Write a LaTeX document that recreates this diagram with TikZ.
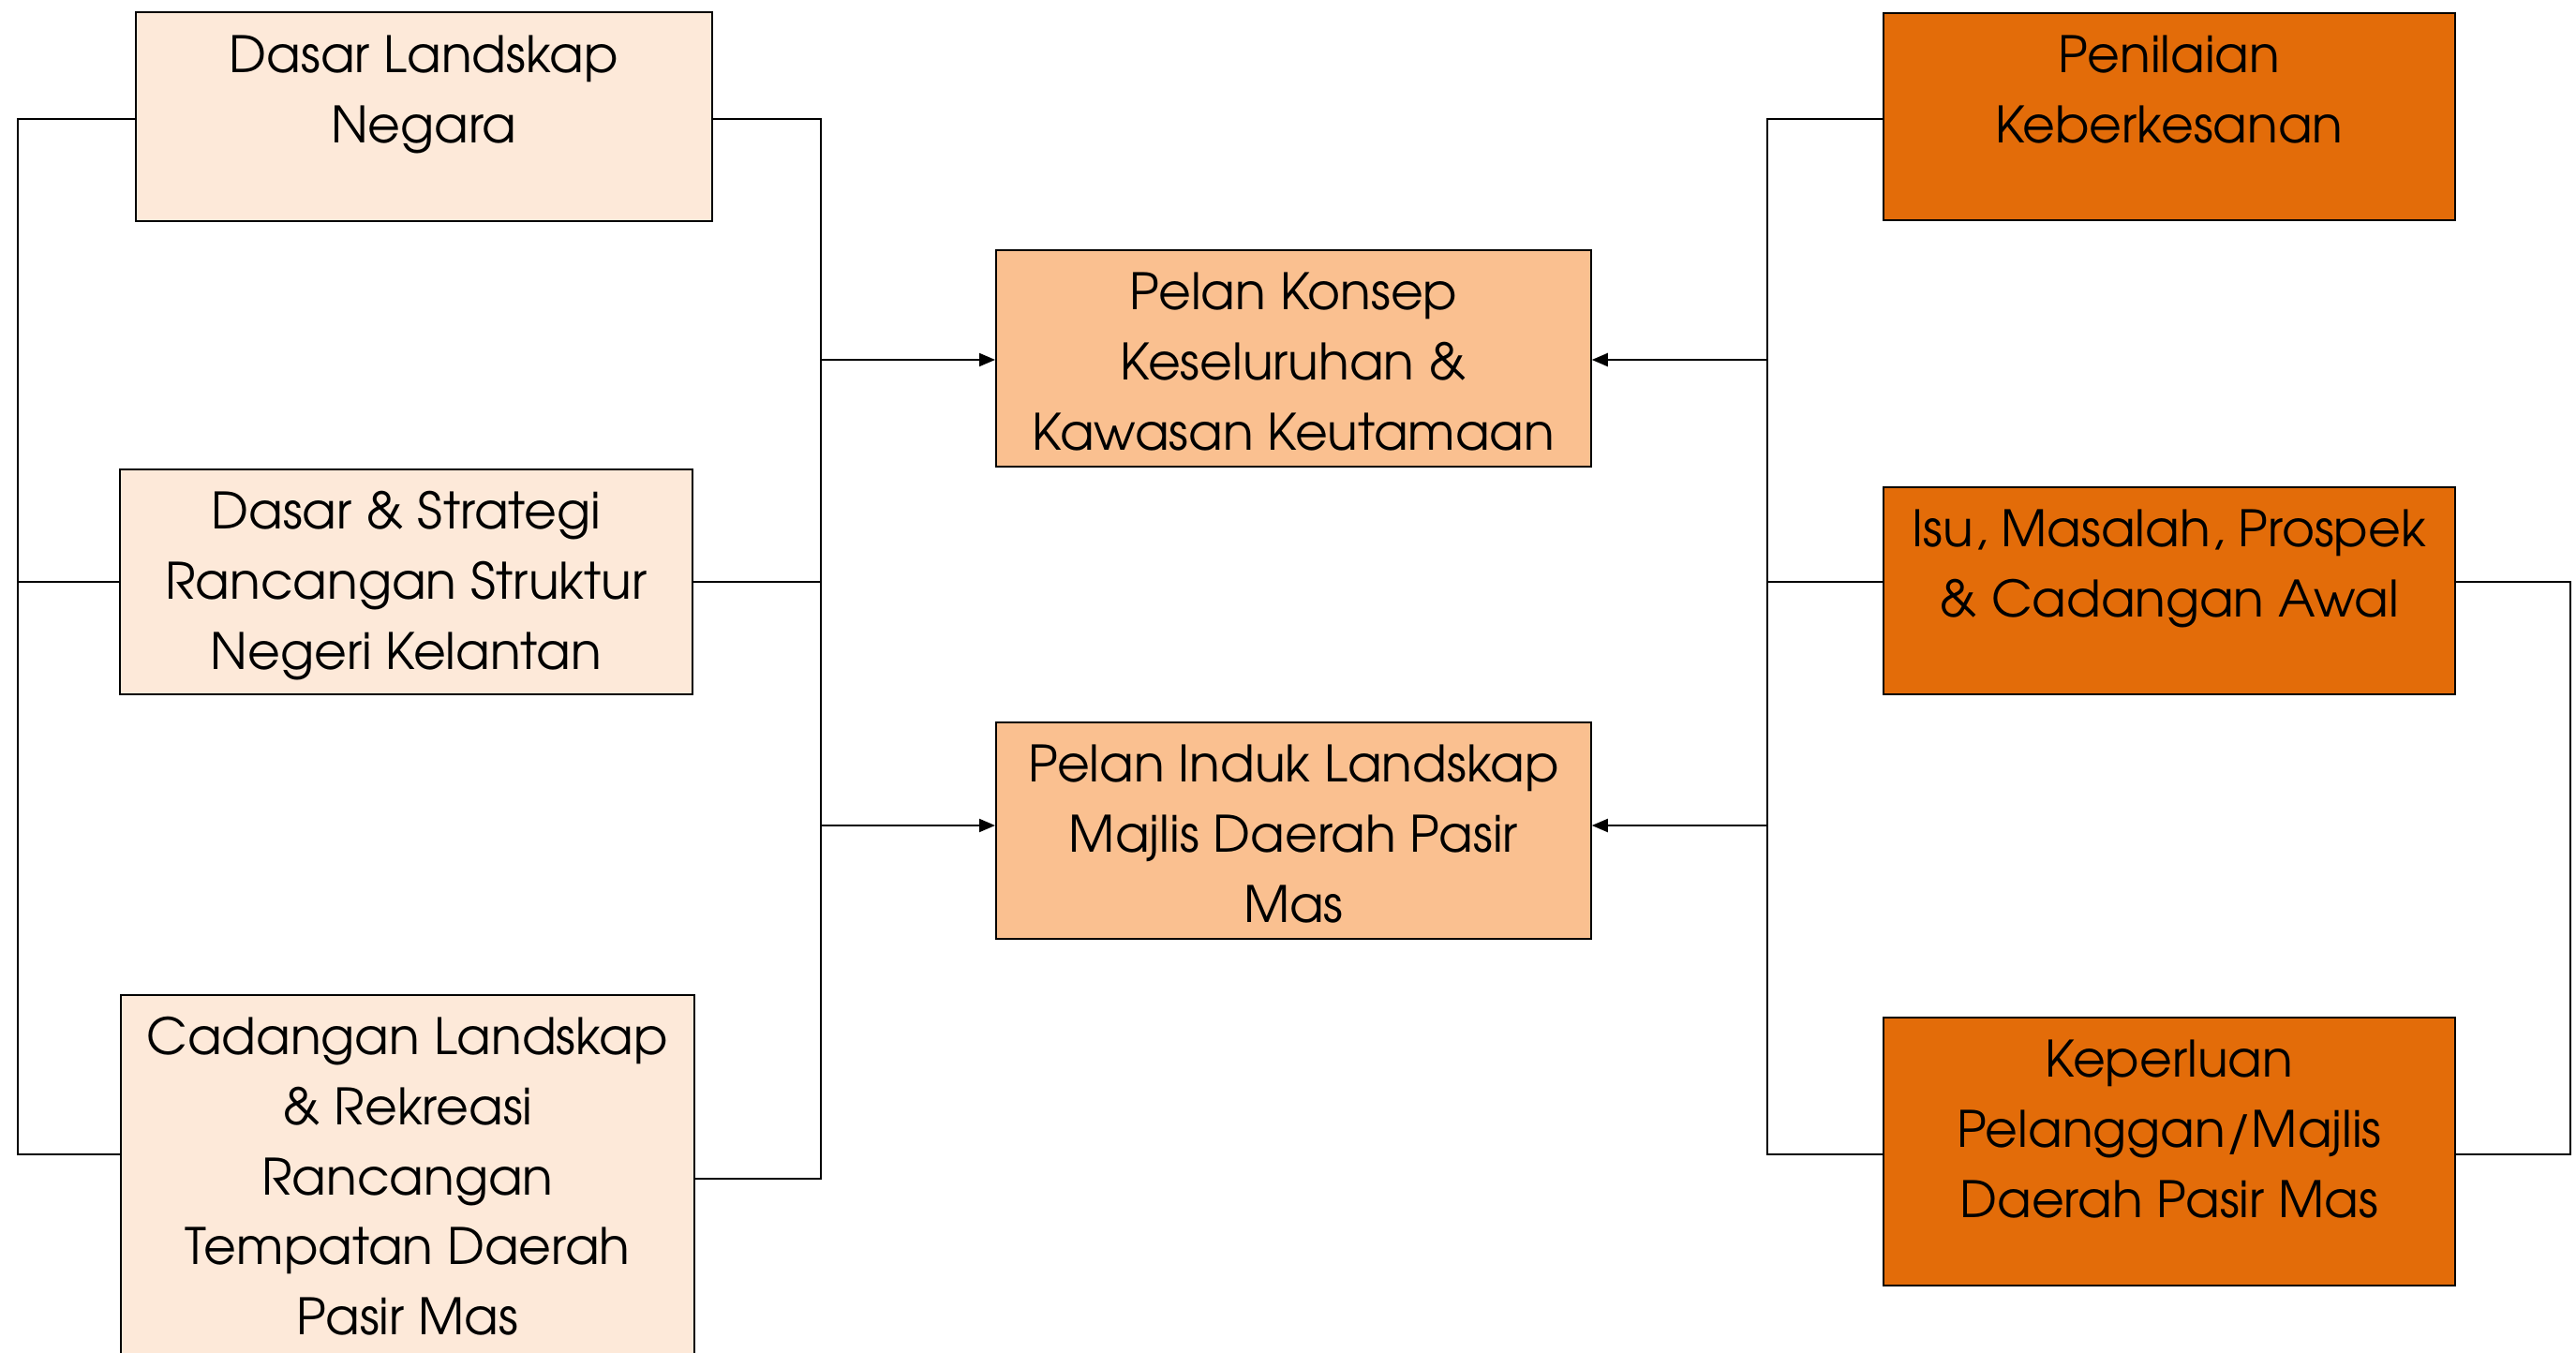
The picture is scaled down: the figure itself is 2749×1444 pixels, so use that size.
\documentclass[tikz,border=0pt]{standalone}
\usepackage{fontspec}
\setmainfont{TeX Gyre Adventor}
\usetikzlibrary{arrows.meta}
\definecolor{peachL}{HTML}{FDE9D9}
\definecolor{peachM}{HTML}{FAC090}
\definecolor{orangeD}{HTML}{E36C09}
\newlength\pxu
\setlength{\pxu}{0.2mm}
\newcommand\boxtext[3]{\begin{minipage}[t][#2\pxu][t]{#1\pxu}\centering\rule{0pt}{64\pxu}#3\end{minipage}}
\tikzset{
  boxbase/.style={draw=black, line width=1pt, inner sep=0pt, anchor=north west,
    font=\fontsize{30.5}{42.5}\selectfont},
  lightbox/.style={boxbase, fill=peachL},
  midbox/.style={boxbase, fill=peachM},
  darkbox/.style={boxbase, fill=orangeD},
  conn/.style={line width=1.1pt},
  arr/.style={conn, -{Triangle[length=3.4mm,width=2.8mm]}}
}
\begin{document}
\begin{tikzpicture}[x=0.2mm, y=-0.2mm]
\fill[white] (0,0) rectangle (2749,1444);
\useasboundingbox (0,0) rectangle (2749,1444);
% left column
\node[lightbox] (b1) at (144,12.5) {\boxtext{615}{222.5}{Dasar Landskap\\Negara}};
\node[lightbox] (b2) at (127,500) {\boxtext{611}{240}{Dasar \& Strategi\\Rancangan Struktur\\Negeri Kelantan}};
\node[lightbox] (b3) at (128,1061) {\boxtext{612}{420}{Cadangan Landskap\\\& Rekreasi\\Rancangan\\Tempatan Daerah\\Pasir Mas}};
% centre column
\node[midbox] (pkk) at (1062,266) {\boxtext{635}{231}{Pelan Konsep\\Keseluruhan \&\\Kawasan Keutamaan}};
\node[midbox] (pil) at (1062,770) {\boxtext{635}{231}{Pelan Induk Landskap\\Majlis Daerah Pasir\\Mas}};
% right column
\node[darkbox] (pen) at (2009,13) {\boxtext{610}{221}{Penilaian\\Keberkesanan}};
\node[darkbox] (isu) at (2009,519) {\boxtext{610}{221}{Isu, Masalah, Prospek\\\& Cadangan Awal}};
\node[darkbox] (kep) at (2009,1085) {\boxtext{610}{286}{Keperluan\\Pelanggan/Majlis\\Daerah Pasir Mas}};
% bus coordinates
\coordinate (ya) at (19,127);
\coordinate (yb) at (19,621);
\coordinate (yk) at (19,1232);
\coordinate (R) at (876,1258);
\coordinate (yp) at (876,384);
\coordinate (yq) at (876,881);
\coordinate (Q) at (1886,0);
\coordinate (O) at (2743,0);
% left outer bus
\draw[conn] (b1.west |- ya) -- (ya) -- (yk) -- (b3.west |- yk);
\draw[conn] (b2.west |- yb) -- (yb);
% left inner bus
\draw[conn] (b1.east |- ya) -| (R) -- (b3.east |- R);
\draw[conn] (b2.east |- yb) -- (R |- yb);
\draw[arr] (yp) -- (pkk.west |- yp);
\draw[arr] (yq) -- (pil.west |- yq);
% right inner bus
\draw[conn] (pen.west |- ya) -| (Q |- yk) -- (kep.west |- yk);
\draw[conn] (isu.west |- yb) -- (Q |- yb);
\draw[arr] (Q |- yp) -- (pkk.east |- yp);
\draw[arr] (Q |- yq) -- (pil.east |- yq);
% right outer bus
\draw[conn] (isu.east |- yb) -| (O |- yk) -- (kep.east |- yk);
\end{tikzpicture}
\end{document}
